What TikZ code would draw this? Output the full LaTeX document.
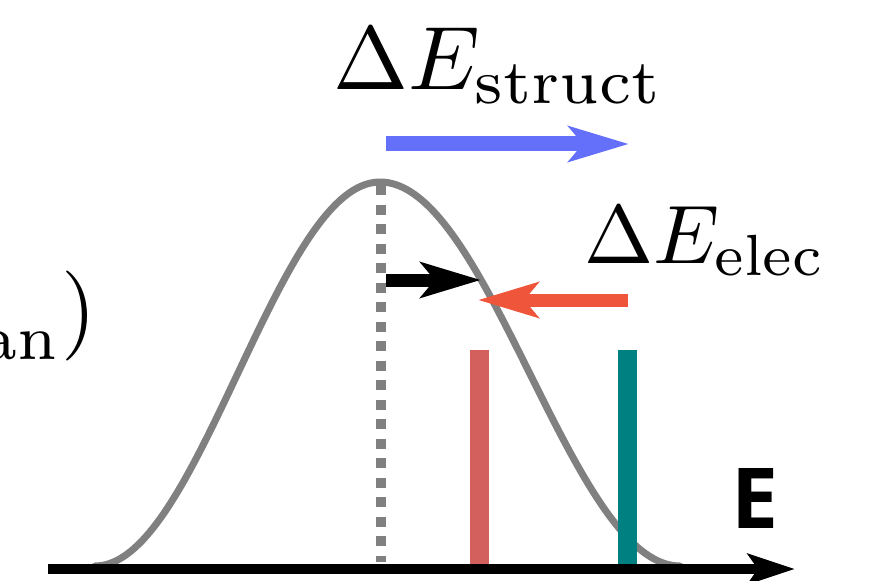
\documentclass[tikz,border=0pt]{standalone}
\usepackage{graphicx}
\usepackage{fontspec}
\newfontfamily\axisfont{Open Sans}
\usetikzlibrary{arrows.meta}
\definecolor{curvegray}{RGB}{128,128,128}
\definecolor{structblue}{RGB}{100,112,250}
\definecolor{elecred}{RGB}{238,85,58}
\definecolor{barred}{RGB}{212,96,94}
\definecolor{barteal}{RGB}{0,128,128}
\newcommand{\bigmath}[2][9]{\scalebox{#1}{\fontsize{10}{12}\selectfont$#2$}}
\tikzset{
  curveline/.style={curvegray, line width=7pt, line cap=round},
  dotline/.style={curvegray, line width=10pt, dash pattern=on 10pt off 9.5pt},
  bigarrow/.style={line width=#1, -{Stealth[length=60pt, width=35pt, inset=14pt]}},
  barline/.style={line width=19pt},
  biglabel/.style={inner sep=0pt},
}
\begin{document}
\begin{tikzpicture}[x=1pt, y=-1pt]
\clip (0,0) rectangle (874,580);
\useasboundingbox (0,0) rectangle (874,580);
% distribution curve
\draw[curveline] plot[domain=95:380, samples=80] (\x, {566-192*(1+cos((\x-380)/285*180))})
                 -- plot[domain=380:680, samples=80] (\x, {566-192*(1+cos((\x-380)/300*180))});
% mean line
\coordinate (meantop) at (381,185);
\coordinate (meanbot) at (381,562);
\draw[dotline] (meantop) -- (meanbot);
% axis
\coordinate (axstart) at (48,569);
\coordinate (axend) at (795,569);
\draw[line width=10pt, -{Stealth[length=47pt, width=30pt, inset=10pt]}] (axstart) -- (axend);
\node[biglabel, anchor=base west] (elabel) at (731,528) {\resizebox{!}{60pt}{\axisfont\bfseries\fontsize{10}{12}\selectfont E}};
% bars
\coordinate (redtop) at (479.5,350);
\coordinate (redbot) at (479.5,564);
\coordinate (tealtop) at (627.5,350);
\coordinate (tealbot) at (627.5,564);
\draw[barline, barred] (redtop) -- (redbot);
\draw[barline, barteal] (tealtop) -- (tealbot);
% arrows
\coordinate (bs) at (386,144);
\coordinate (be) at (629,144);
\draw[bigarrow=15pt, structblue] (bs) -- (be);
\coordinate (ks) at (386,280);
\coordinate (ke) at (481,280);
\draw[bigarrow=13pt, black] (ks) -- (ke);
\coordinate (rs) at (628,300);
\coordinate (re) at (478,300);
\draw[bigarrow=13pt, elecred] (rs) -- (re);
% labels
\node[biglabel, anchor=base west] (structlabel) at (333,90) {\bigmath{\Delta E_{\mathrm{struct}}}};
\node[biglabel, anchor=base west] (eleclabel) at (584,263) {\bigmath[8.3]{\Delta E_{\mathrm{elec}}}};
\node[biglabel, anchor=base east] (leftlabel) at (97,338) {\bigmath{E_{\raisebox{-0.9pt}{$\scriptstyle\mathrm{mean}$}})}};
\end{tikzpicture}
\end{document}
